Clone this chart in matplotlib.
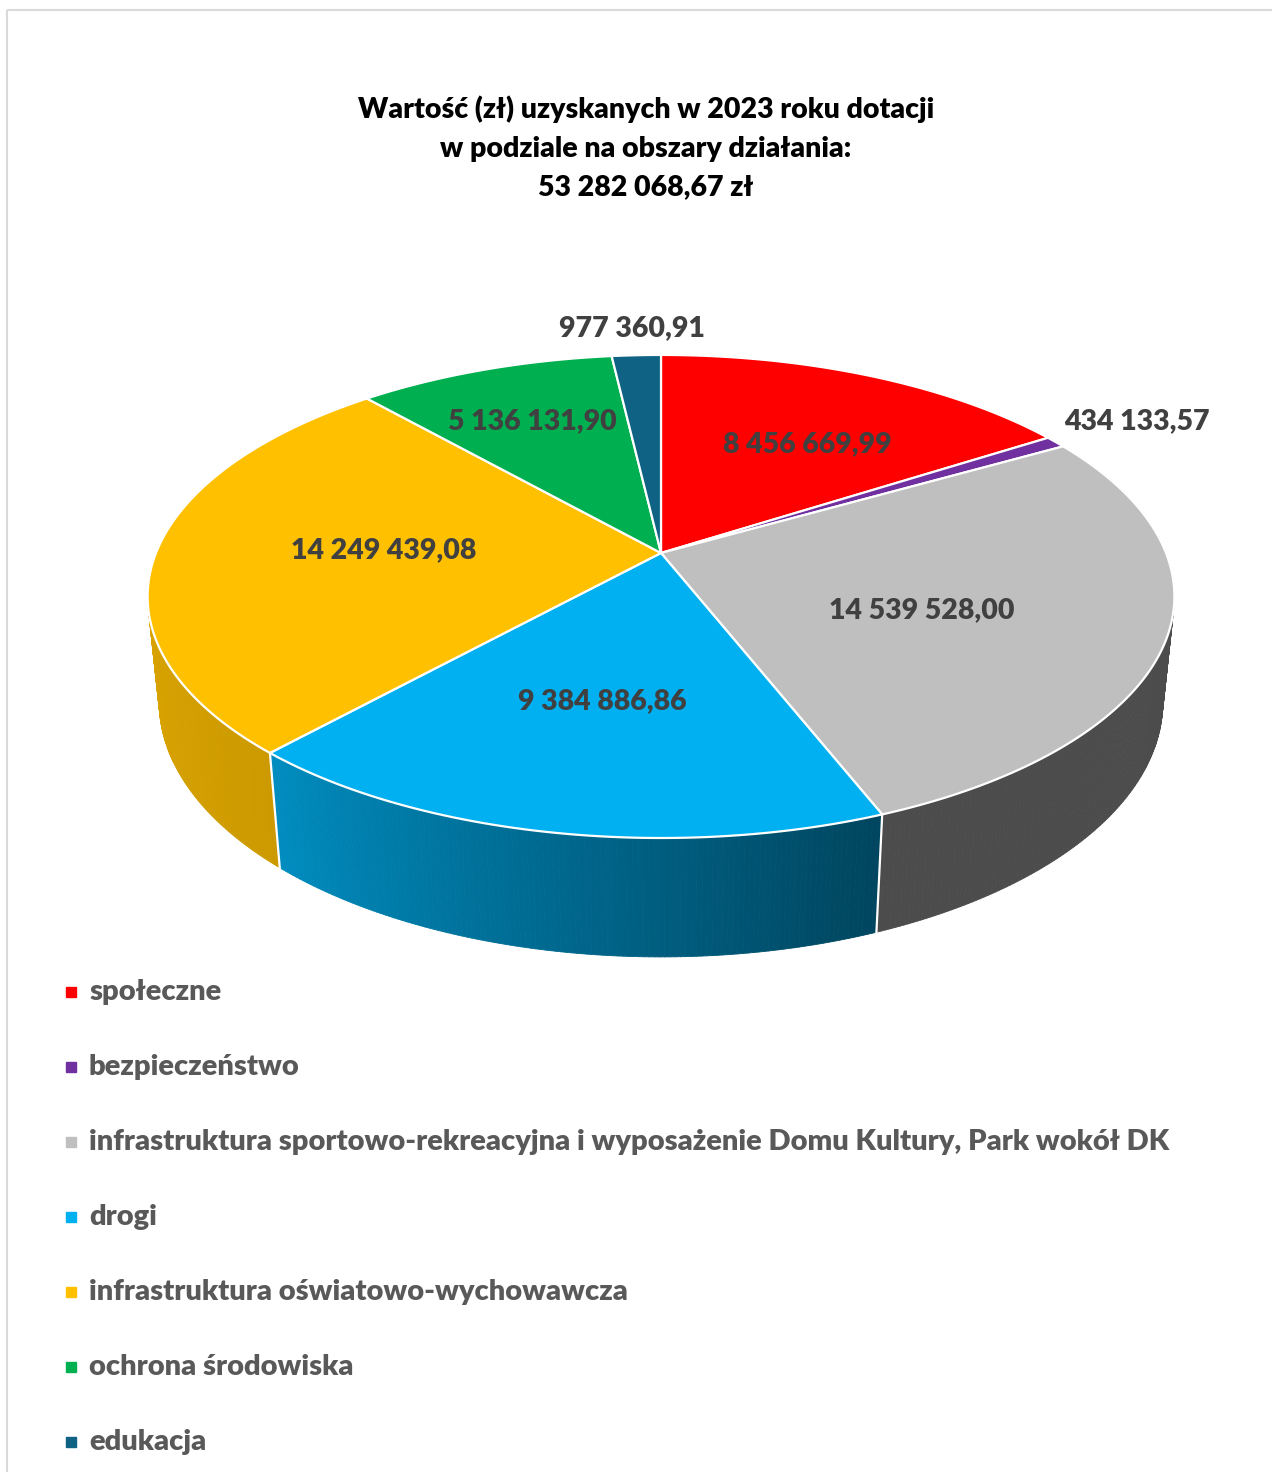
import numpy as np
import matplotlib.pyplot as plt
from matplotlib.patches import Polygon, Rectangle
from matplotlib.collections import PolyCollection
from matplotlib.colors import to_rgb

plt.rcParams['font.family'] = ['Lato', 'DejaVu Sans']

title = "Wartość (zł) uzyskanych w 2023 roku dotacji\nw podziale na obszary działania:\n53 282 068,67 zł"

categories = [
    "społeczne",
    "bezpieczeństwo",
    "infrastruktura sportowo-rekreacyjna i wyposażenie Domu Kultury, Park wokół DK",
    "drogi",
    "infrastruktura oświatowo-wychowawcza",
    "ochrona środowiska",
    "edukacja",
]
values = [8456669.99, 434133.57, 14539528.00, 9384886.86, 14249439.08, 5136131.90, 977360.91]
colors = ["#FF0000", "#7030A0", "#BFBFBF", "#00B0F0", "#FFC000", "#00B050", "#0F6283"]

# label placement: radius (fraction of pie radius, >1 = outside) and pixel nudge
label_r = [0.67, 1.23, 0.53, 0.58, 0.55, 0.70, 1.20]
label_dy = [15, 2, 15, 0, -2, 2, 5]


def fmt(v):
    return f"{v:,.2f}".replace(",", " ").replace(".", ",")


# perspective 3D pie: disk radius 1, thickness H, camera elevation phi
CX, CY = 661, 553
A, B, P = 505.0, 233.7, 0.18
SIN = B / A
COS = np.sqrt(1 - SIN ** 2)
D = COS / P
F = A * D
H = 0.238


def project(u, v, w=0.0):
    z = D - v * COS - w * SIN
    return CX + F * u / z, CY + F * (v * SIN - w * COS) / z


def uv(theta, r=1.0):
    t = np.radians(theta)
    return r * np.sin(t), -r * np.cos(t)


def shade(theta):
    return np.interp(theta, [0, 90, 160, 222, 275, 360], [0.4, 0.4, 0.4, 0.8, 0.88, 0.88])


fracs = np.array(values) / np.sum(values)
ends = np.cumsum(fracs) * 360
starts = ends - fracs * 360

fig = plt.figure(figsize=(12.72, 14.72), dpi=100)
ax = fig.add_axes([0, 0, 1, 1])
ax.set_xlim(0, 1272)
ax.set_ylim(1472, 0)
ax.axis('off')

ax.add_patch(Rectangle((7, 10), 1400, 1500, fill=False, ec="#D9D9D9", lw=1.5))

# side walls
quads, qcol, depth = [], [], []
for s, e, c in zip(starts, ends, colors):
    th = np.linspace(s, e, max(int((e - s) / 0.5), 2) + 1)
    for t1, t2 in zip(th[:-1], th[1:]):
        u1, v1 = uv(t1)
        u2, v2 = uv(t2)
        pts = [project(u1, v1), project(u2, v2), project(u2, v2, -H), project(u1, v1, -H)]
        quads.append(pts)
        f = shade((t1 + t2) / 2)
        qcol.append(tuple(np.array(to_rgb(c)) * f))
        depth.append((v1 + v2) / 2)
order = np.argsort(depth)
ax.add_collection(PolyCollection([quads[i] for i in order],
                                 facecolors=[qcol[i] for i in order],
                                 edgecolors=[qcol[i] for i in order], linewidths=0.6))

# white seams on visible wall edges
for t in ends:
    u, v = uv(t)
    if v > 1 / (D * COS):
        x0, y0 = project(u, v)
        x1, y1 = project(u, v, -H)
        ax.plot([x0, x1], [y0, y1], color="white", lw=1.6)

# top face
for s, e, c in zip(starts, ends, colors):
    th = np.linspace(s, e, max(int(e - s), 2) + 1)
    pts = [project(0, 0)] + [project(*uv(t)) for t in th]
    ax.add_patch(Polygon(pts, closed=True, fc=c, ec="white", lw=1.6, joinstyle='round'))

# data labels
for s, e, v, r, dy in zip(starts, ends, values, label_r, label_dy):
    x, y = project(*uv((s + e) / 2, r))
    ax.text(x, y + dy, fmt(v), ha='center', va='center', fontsize=20.5, fontweight='heavy',
            color="#404040")

ax.text(646, 148, title, ha='center', va='center', fontsize=20.5, fontweight='heavy',
        color="black", linespacing=1.6)

# legend
for i, (name, c) in enumerate(zip(categories, colors)):
    y = 992 + i * 75
    ax.plot(71, y, marker='s', ms=7.5, color=c, mec=c)
    ax.text(89, y, name, ha='left', va='center', fontsize=21, fontweight='heavy',
            color="#595959")

fig.savefig("out.png", dpi=100)
